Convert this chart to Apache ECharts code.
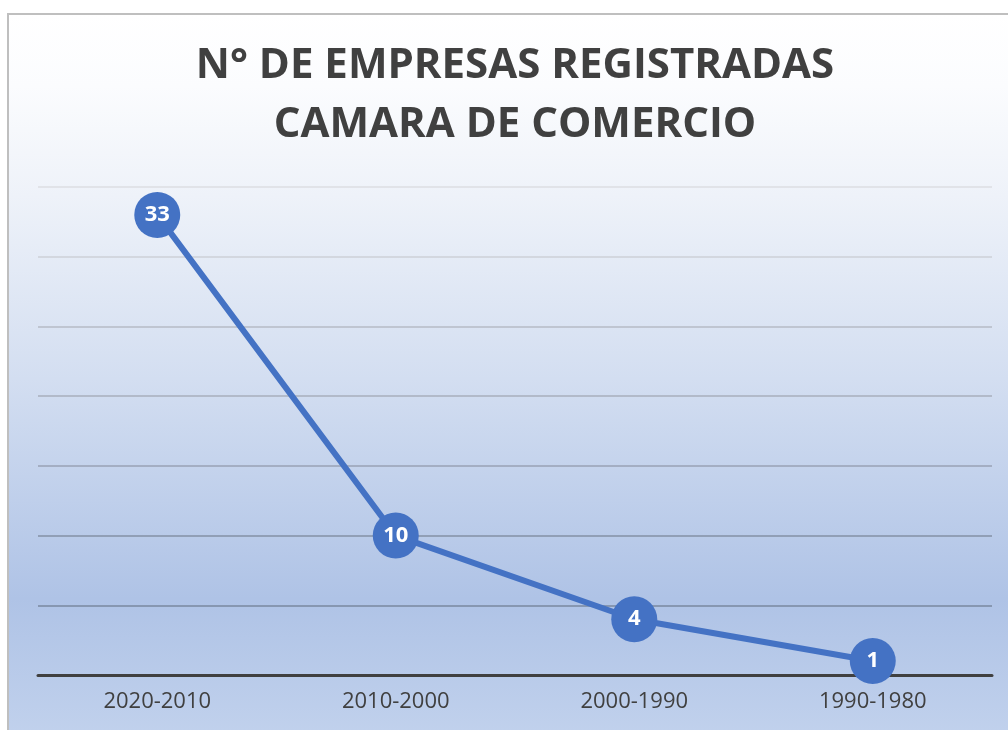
<!DOCTYPE html>
<html>
<head>
<meta charset="utf-8">
<script src="https://cdn.jsdelivr.net/npm/echarts@6/dist/echarts.min.js"></script>
<style>
html,body{margin:0;padding:0;background:#ffffff;}
#chart{width:1008px;height:730px;}
</style>
</head>
<body>
<div id="chart"></div>
<script>
var titleLines = ['N° DE EMPRESAS REGISTRADAS', 'CAMARA DE COMERCIO'];
var categories = ['2020-2010', '2010-2000', '2000-1990', '1990-1980'];
var values = [33, 10, 4, 1];
var yTicks = [0, 5, 10, 15, 20, 25, 30, 35];

var chart = echarts.init(document.getElementById('chart'), null, {renderer: 'canvas'});
var font = '"Open Sans", "DejaVu Sans", sans-serif';
var option = {
  animation: false,
  graphic: [
    {
      type: 'rect', z: -10, silent: true,
      shape: {x: 8, y: 14, width: 1020, height: 730},
      style: {
        fill: new echarts.graphic.LinearGradient(0, 0, 0, 1, [
          {offset: 0, color: '#ffffff'},
          {offset: 0.1, color: '#fbfcfe'},
          {offset: 0.25, color: '#eef2f9'},
          {offset: 0.5, color: '#d3def1'},
          {offset: 0.8, color: '#afc3e6'},
          {offset: 1, color: '#c2d2ed'}
        ]),
        stroke: '#bfbfbf', lineWidth: 2
      }
    },
    {
      type: 'text', z: 10, x: 515, y: 66,
      style: {text: titleLines[0], fill: '#404040', font: 'bold 42px ' + font, align: 'center', verticalAlign: 'middle'}
    },
    {
      type: 'text', z: 10, x: 515, y: 125,
      style: {text: titleLines[1], fill: '#404040', font: 'bold 42px ' + font, align: 'center', verticalAlign: 'middle'}
    }
  ],
  grid: {left: 38, right: 16, top: 187, bottom: 55, containLabel: false},
  xAxis: {
    type: 'category', data: categories, boundaryGap: true,
    axisLine: {show: true, lineStyle: {color: '#404040', width: 3}},
    axisTick: {show: false},
    axisLabel: {color: '#404040', fontSize: 22, fontFamily: font, margin: 16},
    splitLine: {show: false}
  },
  yAxis: {
    type: 'value', min: 0, max: 35, interval: 5,
    axisLine: {show: false}, axisTick: {show: false}, axisLabel: {show: false},
    splitLine: {show: true, lineStyle: {width: 1.5, color: ['#404040', '#7a889f', '#8490a5', '#98a2b4', '#a8afbd', '#b6bbc6', '#cdd0d7', '#dcdee2']}}
  },
  series: [{
    type: 'line', data: values, z: 5,
    lineStyle: {color: '#4472c4', width: 6},
    itemStyle: {color: '#4472c4', borderWidth: 0},
    symbol: 'circle', symbolSize: 46,
    label: {show: true, position: 'inside', color: '#ffffff', fontWeight: 'bold', fontSize: 22, fontFamily: font}
  }]
};
chart.setOption(option);
</script>
</body>
</html>
